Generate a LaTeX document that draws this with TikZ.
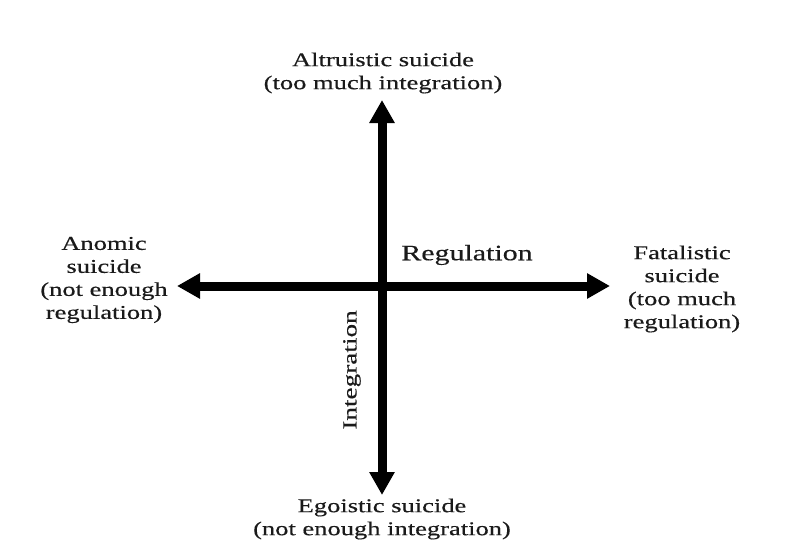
\documentclass[tikz,border=0pt]{standalone}
\usepackage{fontspec}
\setmainfont{Liberation Serif}[FakeStretch=1.36,FakeBold=0.35]
\usetikzlibrary{arrows.meta}
\definecolor{ink}{HTML}{1A1A1A}
\begin{document}
\begin{tikzpicture}[x=1pt,y=-1pt,
  lbl/.style={align=center,inner sep=0pt,text=ink,font=\fontsize{19.5}{23}\selectfont},
  axislbl/.style={inner sep=0pt,text=ink,font=\fontsize{22}{24}\selectfont},
  axis/.style={draw=black,line width=9pt,{Triangle[length=23pt,width=24pt]}-{Triangle[length=23pt,width=24pt]}}]
\fill[white] (0,0) rectangle (788,554);
\useasboundingbox (0,0) rectangle (788,554);
\coordinate (top) at (382,100);
\coordinate (bot) at (382,495);
\coordinate (lft) at (177,286);
\coordinate (rgt) at (610,286);
\draw[axis] (top) -- (bot);
\draw[axis] (lft) -- (rgt);
\node[lbl] (altr) at (383,73) {Altruistic suicide\\(too much integration)};
\node[lbl] (ego) at (382,519) {Egoistic suicide\\(not enough integration)};
\node[lbl] (anom) at (104,280) {Anomic\\suicide\\(not enough\\regulation)};
\node[lbl] (fatal) at (682,289) {Fatalistic\\suicide\\(too much\\regulation)};
\node[axislbl] (reg) at (467,255) {Regulation};
\node[axislbl,rotate=90,font=\fontsize{20}{23}\selectfont] (integ) at (352,370) {Integration};
\end{tikzpicture}
\end{document}
